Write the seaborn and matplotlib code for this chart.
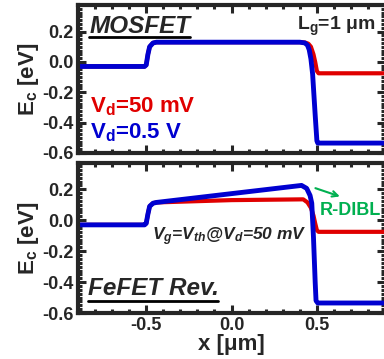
import matplotlib
matplotlib.use("Agg")
import matplotlib.pyplot as plt
from matplotlib.ticker import MultipleLocator
from matplotlib.lines import Line2D
import seaborn as sns

# MOSFET conduction band (Lg = 1 um)
mos_x_red = [-0.9, -0.51, -0.50, -0.49, -0.48, -0.46, -0.44, 0.40, 0.43, 0.45, 0.465, 0.48, 0.49, 0.50, 0.51, 0.9]
mos_e_red = [-0.03, -0.03, -0.02, 0.05, 0.10, 0.125, 0.13, 0.13, 0.128, 0.12, 0.10, 0.05, 0.0, -0.06, -0.075, -0.075]
mos_x_blue = [-0.9, -0.51, -0.50, -0.49, -0.48, -0.46, -0.44, 0.40, 0.43, 0.445, 0.455, 0.465, 0.475, 0.49, 0.50, 0.505, 0.9]
mos_e_blue = [-0.03, -0.03, -0.02, 0.05, 0.10, 0.125, 0.13, 0.13, 0.125, 0.11, 0.08, 0.02, -0.08, -0.35, -0.52, -0.535, -0.535]

# FeFET reverse sweep
fe_x_red = [-0.9, -0.51, -0.50, -0.49, -0.48, -0.46, -0.44, 0.0, 0.42, 0.445, 0.465, 0.48, 0.49, 0.50, 0.51, 0.9]
fe_e_red = [-0.03, -0.03, -0.02, 0.04, 0.09, 0.11, 0.115, 0.13, 0.135, 0.115, 0.08, 0.03, -0.02, -0.065, -0.075, -0.075]
fe_x_blue = [-0.9, -0.51, -0.50, -0.49, -0.48, -0.46, -0.44, 0.41, 0.44, 0.46, 0.47, 0.48, 0.49, 0.495, 0.505, 0.9]
fe_e_blue = [-0.03, -0.03, -0.02, 0.04, 0.09, 0.11, 0.115, 0.225, 0.206, 0.16, 0.11, -0.11, -0.40, -0.52, -0.535, -0.535]

red = "#e00000"
blue = "#0000d0"
green = "#00b050"

sns.set_style("ticks")
plt.rcParams["font.family"] = ["Liberation Sans", "DejaVu Sans"]
plt.rcParams["font.weight"] = "bold"
plt.rcParams["axes.unicode_minus"] = False
plt.rcParams["mathtext.fontset"] = "custom"
plt.rcParams["mathtext.rm"] = "Liberation Sans:bold"
plt.rcParams["mathtext.it"] = "Liberation Sans:bold:italic"
plt.rcParams["mathtext.bf"] = "Liberation Sans:bold"

fig = plt.figure(figsize=(3.84, 3.59), dpi=100)
ax1 = fig.add_axes([0.203, 0.574, 0.800, 0.412])
ax2 = fig.add_axes([0.203, 0.128, 0.800, 0.418])

sns.lineplot(x=mos_x_red, y=mos_e_red, ax=ax1, color=red, lw=3)
sns.lineplot(x=mos_x_blue, y=mos_e_blue, ax=ax1, color=blue, lw=3.5)
sns.lineplot(x=fe_x_red, y=fe_e_red, ax=ax2, color=red, lw=3)
sns.lineplot(x=fe_x_blue, y=fe_e_blue, ax=ax2, color=blue, lw=3.5)

for ax, top in [(ax1, 0.375), (ax2, 0.37)]:
    ax.set_xlim(-0.9, 0.9)
    ax.set_ylim(-0.6, top)
    ax.xaxis.set_major_locator(MultipleLocator(0.5))
    ax.xaxis.set_minor_locator(MultipleLocator(0.1))
    ax.yaxis.set_major_locator(MultipleLocator(0.2))
    ax.yaxis.set_minor_locator(MultipleLocator(0.025))
    ax.tick_params(which="both", direction="in", top=True, right=True, width=2.2)
    ax.tick_params(which="major", length=6, labelsize=13, pad=3)
    ax.tick_params(which="minor", length=3)
    for s in ax.spines.values():
        s.set_linewidth(3)
    ax.set_ylabel("E$_\\mathregular{c}$ [eV]", fontsize=16, fontweight="bold", labelpad=1)
    for lab in ax.get_xticklabels() + ax.get_yticklabels():
        lab.set_fontweight("bold")

ax1.set_xticklabels([])
ax1.set_xlabel("")
ax2.set_xlabel("x [μm]", fontsize=16, fontweight="bold", labelpad=0)

# top panel text
ax1.text(0.039, 0.81, "MOSFET", transform=ax1.transAxes, fontsize=17.5,
         fontweight="bold", fontstyle="italic")
ax1.add_line(Line2D([0.036, 0.364], [0.784, 0.784], transform=ax1.transAxes, color="black", lw=2))
ax1.text(0.968, 0.83, "L$_\\mathregular{g}$=1 μm", transform=ax1.transAxes, fontsize=14,
         fontweight="bold", ha="right")
ax1.text(0.039, 0.277, "V$_\\mathregular{d}$=50 mV", transform=ax1.transAxes, fontsize=16,
         fontweight="bold", color=red)
ax1.text(0.039, 0.095, "V$_\\mathregular{d}$=0.5 V", transform=ax1.transAxes, fontsize=16,
         fontweight="bold", color=blue)

# bottom panel text
ax2.text(0.24, 0.487, "V$_\\mathit{g}$=V$_\\mathit{th}$@V$_\\mathit{d}$=50 mV", transform=ax2.transAxes,
         fontsize=12.5, fontweight="bold", fontstyle="italic")
ax2.text(0.033, 0.12, "FeFET Rev.", transform=ax2.transAxes, fontsize=17.5,
         fontweight="bold", fontstyle="italic")
ax2.add_line(Line2D([0.032, 0.455], [0.08, 0.08], transform=ax2.transAxes, color="black", lw=2))
ax2.text(0.786, 0.653, "R-DIBL", transform=ax2.transAxes, fontsize=13,
         fontweight="bold", color=green)
ax2.annotate("", xy=(0.65, 0.148), xytext=(0.476, 0.213),
             arrowprops=dict(arrowstyle="->", color=green, lw=1.5))

fig.savefig("out.png", dpi=100)
